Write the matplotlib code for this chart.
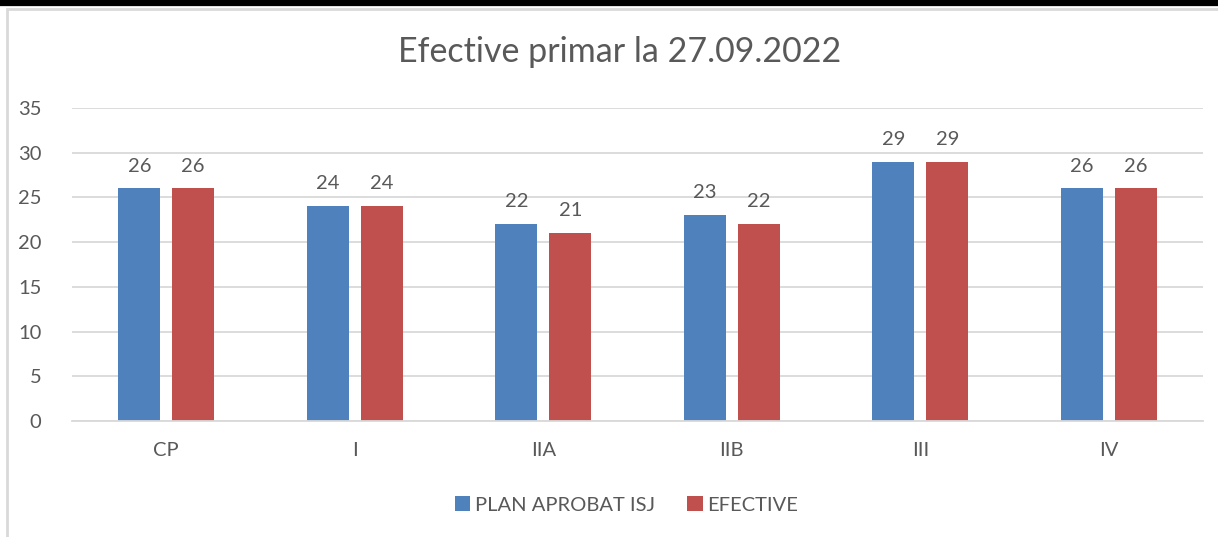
import numpy as np
import matplotlib.pyplot as plt
from matplotlib.patches import Rectangle
from matplotlib.lines import Line2D

plt.rcParams['font.family'] = ['Lato', 'DejaVu Sans']

# data
categories = ['CP', 'I', 'IIA', 'IIB', 'III', 'IV']
plan = [26, 24, 22, 23, 29, 26]
efective = [26, 24, 21, 22, 29, 26]

blue = '#4F81BD'
red = '#C0504D'
text_col = '#595959'

fig = plt.figure(figsize=(12.18, 5.37), dpi=100)

# outer chart border and black band on top
fig.patches.append(Rectangle((7 / 1218, -0.02), 1.05, 1.02 - 9 / 537, transform=fig.transFigure,
                             fill=False, edgecolor='#D9D9D9', linewidth=2.0))
fig.lines.append(Line2D([0, 1], [1 - 3 / 537, 1 - 3 / 537], transform=fig.transFigure,
                        color='black', linewidth=4.5))

ax = fig.add_axes([72 / 1218, 1 - 421 / 537, 1131 / 1218, 313 / 537])

x = np.arange(len(categories))
w = 0.223
off = 0.143
b1 = ax.bar(x - off, plan, w, color=blue, label='PLAN APROBAT ISJ')
b2 = ax.bar(x + off, efective, w, color=red, label='EFECTIVE')

for bars in (b1, b2):
    for r in bars:
        ax.annotate(f'{int(r.get_height())}', (r.get_x() + r.get_width() / 2, r.get_height()),
                    xytext=(0, 10), textcoords='offset points', ha='center', va='bottom',
                    fontsize=14.5, color=text_col)

ax.set_xlim(-0.5, len(categories) - 0.5)
ax.set_ylim(0, 35)
ax.set_yticks(range(0, 36, 5))
ax.set_xticks(x)
ax.set_xticklabels(categories)
ax.tick_params(axis='both', length=0, labelsize=14.5, colors=text_col)
ax.tick_params(axis='x', pad=15)
ax.tick_params(axis='y', pad=22)
ax.grid(axis='y', color='#D9D9D9', linewidth=1.3)
ax.set_axisbelow(True)
for s in ['top', 'right', 'left']:
    ax.spines[s].set_visible(False)
ax.spines['bottom'].set_color('#D9D9D9')
ax.spines['bottom'].set_linewidth(1.3)

fig.text(0.509, 1 - 52 / 537, 'Efective primar la 27.09.2022', ha='center', va='center',
         fontsize=24.5, color=text_col)

fig.legend(handles=[b1, b2], loc='center', bbox_to_anchor=(0.5145, 1 - 505 / 537), ncol=2,
           frameon=False, fontsize=14.5, labelcolor=text_col, handlelength=0.75, handleheight=0.75,
           handletextpad=0.25, columnspacing=1.6)

plt.savefig('out.png', dpi=100)
